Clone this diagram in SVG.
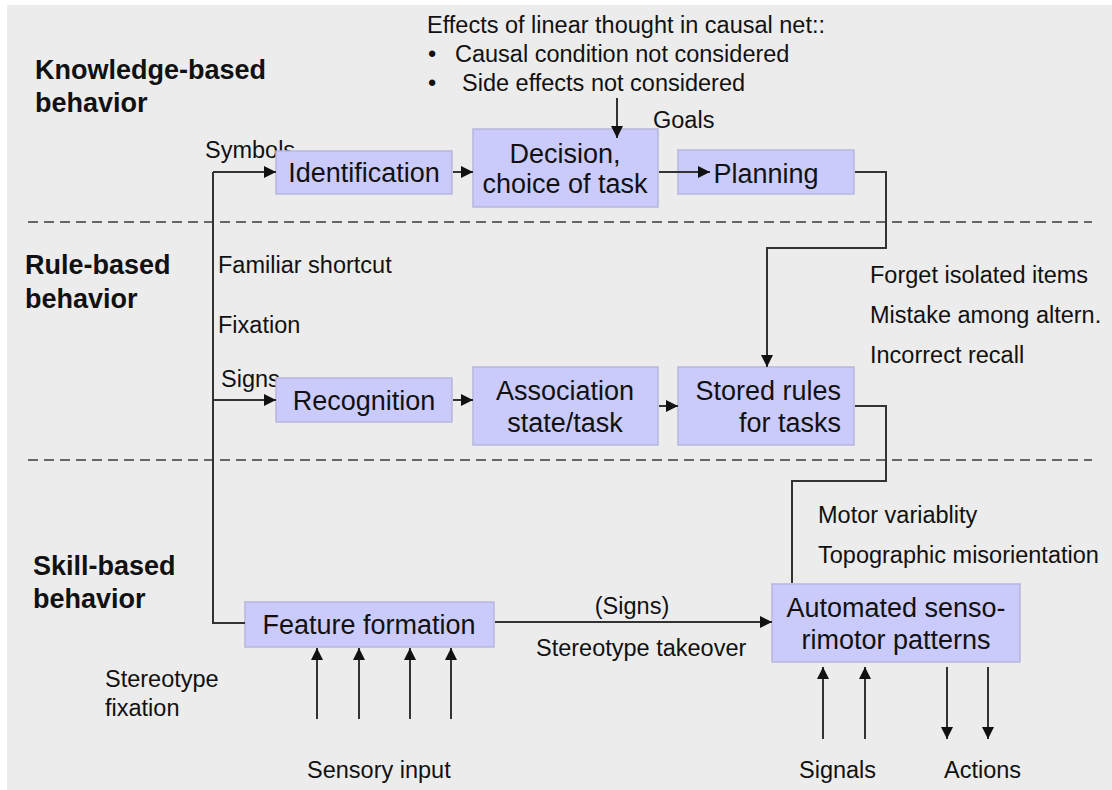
<svg xmlns="http://www.w3.org/2000/svg" width="1112" height="790" viewBox="0 0 1112 790">
<style>
text{font-family:"Liberation Sans",Arial,sans-serif;fill:#111}
.h{font-size:27px;font-weight:bold}
.n{font-size:27px}
.s{font-size:23.5px}
.box{fill:#cbcbfb;stroke:#b6b6dc;stroke-width:1.5}
.c{fill:none;stroke:#333;stroke-width:2}
.d{fill:none;stroke:#666;stroke-width:2;stroke-dasharray:10 6}
</style>
<defs>
<marker id="a" markerUnits="userSpaceOnUse" markerWidth="12" markerHeight="12" refX="12" refY="6" orient="auto">
<path d="M0,0 L12,6 L0,12 z" fill="#111"/>
</marker>
</defs>
<rect x="0" y="0" width="1112" height="790" fill="#ffffff"/>
<rect x="7" y="5" width="1105" height="785" fill="#ececec"/>

<g id="separators">
<line class="d" x1="28" y1="222" x2="1092" y2="222"/>
<line class="d" x1="28" y1="460" x2="1092" y2="460"/>
</g>

<g id="labels">
<text class="h" x="35" y="79">Knowledge-based</text>
<text class="h" x="35" y="112">behavior</text>
<text class="h" x="25" y="274">Rule-based</text>
<text class="h" x="25" y="308">behavior</text>
<text class="h" x="33" y="575">Skill-based</text>
<text class="h" x="33" y="608">behavior</text>
<text class="s" x="427" y="33">Effects of linear thought in causal net::</text>
<text class="s" x="428" y="62">•</text>
<text class="s" x="455" y="62">Causal condition not considered</text>
<text class="s" x="428" y="91">•</text>
<text class="s" x="462" y="91">Side effects not considered</text>
<text class="s" x="653" y="128">Goals</text>
<text class="s" x="205" y="158">Symbols</text>
<text class="s" x="218" y="273">Familiar shortcut</text>
<text class="s" x="218" y="333">Fixation</text>
<text class="s" x="221" y="387">Signs</text>
<text class="s" x="870" y="283">Forget isolated items</text>
<text class="s" x="870" y="323">Mistake among altern.</text>
<text class="s" x="870" y="363">Incorrect recall</text>
<text class="s" x="818" y="523">Motor variablity</text>
<text class="s" x="818" y="563">Topographic misorientation</text>
<text class="s" x="632" y="614" text-anchor="middle">(Signs)</text>
<text class="s" x="536" y="656">Stereotype takeover</text>
<text class="s" x="105" y="687">Stereotype</text>
<text class="s" x="105" y="716">fixation</text>
<text class="s" x="307" y="778">Sensory input</text>
<text class="s" x="799" y="778">Signals</text>
<text class="s" x="944" y="778">Actions</text>
</g>

<g id="identification">
<rect class="box" x="276" y="151" width="176" height="43"/>
<text class="n" x="364" y="182" text-anchor="middle">Identification</text>
</g>
<g id="decision">
<rect class="box" x="473" y="129" width="185" height="78"/>
<text class="n" x="565" y="163" text-anchor="middle">Decision,</text>
<text class="n" x="565" y="193" text-anchor="middle">choice of task</text>
</g>
<g id="planning">
<rect class="box" x="678" y="150" width="176" height="44"/>
<text class="n" x="766" y="183" text-anchor="middle">Planning</text>
</g>
<g id="recognition">
<rect class="box" x="276" y="378" width="176" height="44"/>
<text class="n" x="364" y="410" text-anchor="middle">Recognition</text>
</g>
<g id="association">
<rect class="box" x="473" y="367" width="185" height="78"/>
<text class="n" x="565" y="400" text-anchor="middle">Association</text>
<text class="n" x="565" y="432" text-anchor="middle">state/task</text>
</g>
<g id="stored-rules">
<rect class="box" x="678" y="367" width="176" height="78"/>
<text class="n" x="841" y="400" text-anchor="end">Stored rules</text>
<text class="n" x="841" y="432" text-anchor="end">for tasks</text>
</g>
<g id="feature-formation">
<rect class="box" x="245" y="602" width="249" height="45"/>
<text class="n" x="369" y="634" text-anchor="middle">Feature formation</text>
</g>
<g id="automated">
<rect class="box" x="772" y="584" width="248" height="78"/>
<text class="n" x="896" y="617" text-anchor="middle">Automated senso-</text>
<text class="n" x="896" y="649" text-anchor="middle">rimotor patterns</text>
</g>

<g id="connectors">
<path class="c" d="M213,172 V623 H245"/>
<path class="c" d="M213,172 H276" marker-end="url(#a)"/>
<path class="c" d="M213,400 H276" marker-end="url(#a)"/>
<path class="c" d="M453,172 H473" marker-end="url(#a)"/>
<path class="c" d="M659,172 H710" marker-end="url(#a)"/>
<path class="c" d="M855,172 H886 V248 H767 V367" marker-end="url(#a)"/>
<path class="c" d="M453,400 H473" marker-end="url(#a)"/>
<path class="c" d="M659,406 H678" marker-end="url(#a)"/>
<path class="c" d="M855,406 H886 V481 H792 V583"/>
<path class="c" d="M495,622 H772" marker-end="url(#a)"/>
<path class="c" d="M617,98 V138" marker-end="url(#a)"/>
<path class="c" d="M317,719 V648" marker-end="url(#a)"/>
<path class="c" d="M359,719 V648" marker-end="url(#a)"/>
<path class="c" d="M410,719 V648" marker-end="url(#a)"/>
<path class="c" d="M451,719 V648" marker-end="url(#a)"/>
<path class="c" d="M823,739 V667" marker-end="url(#a)"/>
<path class="c" d="M865,739 V667" marker-end="url(#a)"/>
<path class="c" d="M947,667 V739" marker-end="url(#a)"/>
<path class="c" d="M988,667 V739" marker-end="url(#a)"/>
</g>
</svg>
